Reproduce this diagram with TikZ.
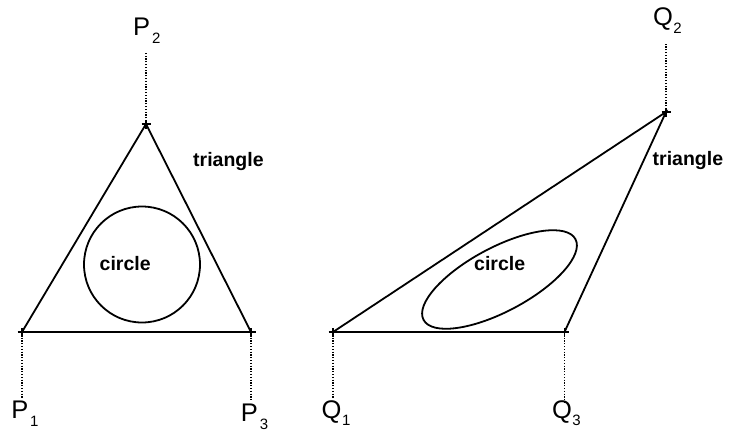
\documentclass[tikz,border=0pt]{standalone}
\usepackage{fontspec}
\setmainfont{Liberation Sans}
\newcommand\mysub[2]{\kern#1\raisebox{-7.8pt}{\fontsize{15}{15}\selectfont #2}}
\begin{document}
\begin{tikzpicture}[x=1pt,y=-1pt,
  edge/.style={line width=1.8pt, line join=miter},
  guide/.style={line width=1.3pt, dash pattern=on 1.2pt off 1.6pt},
  tick/.style={line width=1.5pt},
  lab/.style={inner sep=0pt, anchor=base west, font=\fontsize{25.5}{25.5}\selectfont},
  word/.style={inner sep=0pt, anchor=base west, font=\bfseries\fontsize{19.5}{19.5}\selectfont}]
\useasboundingbox (0,0) rectangle (734,432);

% vertices
\coordinate (P1) at (22,332);
\coordinate (P2) at (146,124);
\coordinate (P3) at (251,332);
\coordinate (Q1) at (333,332);
\coordinate (Q2) at (666,112);
\coordinate (Q3) at (564.5,332);

% triangles
\draw[edge] (P1) -- (P2) -- (P3) -- cycle;
\draw[edge] (Q1) -- (Q2) -- (Q3) -- cycle;

% crosses
\foreach \p in {P1,P2,P3,Q1,Q2,Q3}
  \draw[tick] ([xshift=-4.5pt]\p) -- ([xshift=4.5pt]\p)
              ([yshift=-4.5pt]\p) -- ([yshift=4.5pt]\p);

% circle and ellipse
\draw[edge] (142,264.5) circle (58);
\draw[edge, rotate around={28:(499.5,279.5)}] (499.5,279.5) ellipse (86 and 32);

% labels
\node[lab] (lp2) at (133,35.7) {P\mysub{2pt}{2}};
\node[lab] (lp1) at (11.3,418.3) {P\mysub{1.5pt}{1}};
\node[lab] (lp3) at (240.7,421.7) {P\mysub{2pt}{3}};
\node[lab] (lq2) at (652.8,25.5) {Q\mysub{0.5pt}{2}};
\node[lab] (lq1) at (321.5,418) {Q\mysub{0.5pt}{1}};
\node[lab] (lq3) at (551.8,418) {Q\mysub{0.5pt}{3}};

% dotted guides
\coordinate (gp2) at (146,53);
\coordinate (gp1) at (22,398);
\coordinate (gp3) at (251,400);
\coordinate (gq2) at (666,43);
\coordinate (gq1) at (333,398);
\coordinate (gq3) at (564.5,404);
\draw[guide] (P2) -- (gp2);
\draw[guide] (P1) -- (gp1);
\draw[guide] (P3) -- (gp3);
\draw[guide] (Q2) -- (gq2);
\draw[guide] (Q1) -- (gq1);
\draw[guide] (Q3) -- (gq3);

% words
\node[word] (t1) at (193,166) {triangle};
\node[word] (t2) at (652.5,165.7) {triangle};
\node[word] (c1) at (99.5,270.5) {circle};
\node[word] (c2) at (474,270) {circle};
\end{tikzpicture}
\end{document}
